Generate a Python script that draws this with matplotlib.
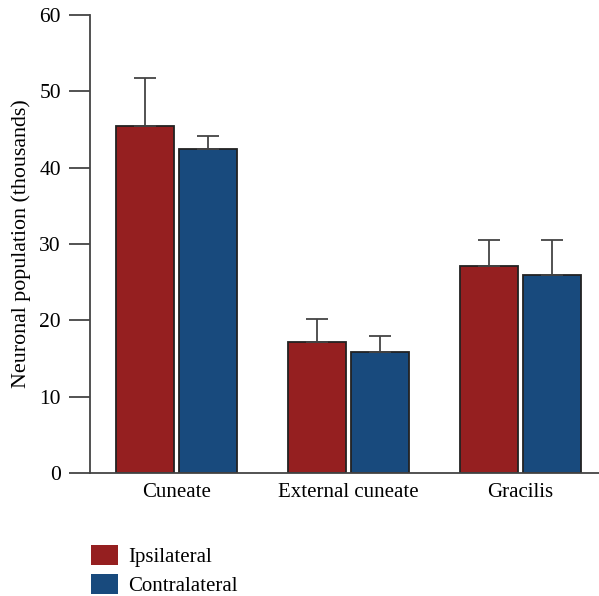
import numpy as np
import matplotlib.pyplot as plt
from matplotlib.patches import Patch

# Values (thousands of neurons)
regions = ["Cuneate", "External cuneate", "Gracilis"]
ipsi_mean = [45.4, 17.2, 27.1]
ipsi_err = [6.4, 3.0, 3.4]
contra_mean = [42.5, 15.9, 25.9]
contra_err = [1.6, 2.1, 4.6]

red = "#951f20"
blue = "#184a7d"

plt.rcParams['font.family'] = ['Liberation Serif', 'DejaVu Serif']

fig = plt.figure(figsize=(5.99, 5.96), dpi=100)
ax = fig.add_axes([0.1503, 0.2064, 0.8497, 0.7684])

x = np.arange(len(regions))
w = 0.337
off = 0.183
errkw = dict(ecolor="#444444", elinewidth=1.3, capsize=8, capthick=1.3)
ax.bar(x - off, ipsi_mean, w, color=red, edgecolor="#222222", linewidth=1.3,
       yerr=[np.zeros(3), ipsi_err], error_kw=errkw, zorder=2)
ax.bar(x + off, contra_mean, w, color=blue, edgecolor="#222222", linewidth=1.3,
       yerr=[np.zeros(3), contra_err], error_kw=errkw, zorder=2)

ax.set_xlim(-0.503, 2.456)
ax.set_ylim(0, 60)
ax.set_yticks(range(0, 61, 10))
ax.set_xticks(x)
ax.set_xticklabels(regions)
ax.tick_params(axis="x", length=0, pad=7, labelsize=15)
ax.tick_params(axis="y", length=15, width=1.3, color="#444444", pad=6, labelsize=15.5)
for s in ["top", "right"]:
    ax.spines[s].set_visible(False)
for s in ["left", "bottom"]:
    ax.spines[s].set_color("#444444")
    ax.spines[s].set_linewidth(1.3)
ax.set_ylabel("Neuronal population (thousands)", fontsize=15.8, labelpad=6)

handles = [Patch(facecolor=red, edgecolor="none"), Patch(facecolor=blue, edgecolor="none")]
fig.legend(handles, ["Ipsilateral", "Contralateral"], loc="upper left",
           bbox_to_anchor=(0.152, 0.086), frameon=False, fontsize=15,
           handlelength=1.3, handleheight=1.15, handletextpad=0.48, labelspacing=0.32,
           borderaxespad=0, borderpad=0)

fig.savefig("out.png", dpi=100)
